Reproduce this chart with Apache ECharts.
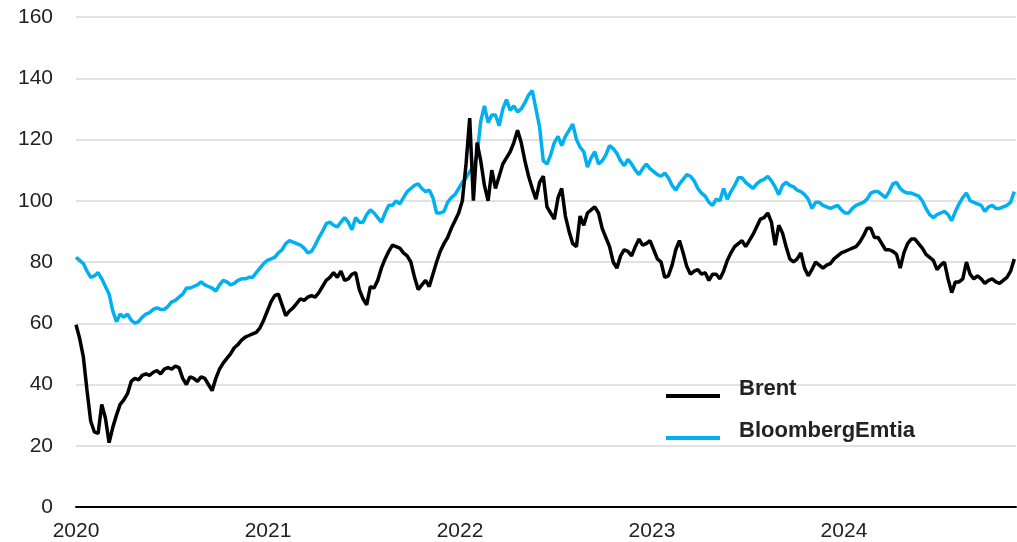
<!DOCTYPE html>
<html>
<head>
<meta charset="utf-8">
<title>Brent vs BloombergEmtia</title>
<script src="https://cdn.jsdelivr.net/npm/echarts@6/dist/echarts.min.js"></script>
<style>
  html, body { margin: 0; padding: 0; background: #fff; }
  #chart { width: 1017px; height: 542px; }
</style>
</head>
<body>
<div id="chart"></div>
<script>
// weekly readings, first point = axis label 2020
const seriesNames = ['Brent', 'BloombergEmtia']
const yearTicks = [2020, 2021, 2022, 2023, 2024]

const brent = [
  59.5, 55, 49, 38, 28, 24.5, 24, 33.5, 29, 21,
  26, 30, 33.5, 35, 37, 41, 42, 41.5, 43, 43.5,
  43, 44, 44.5, 43.5, 45, 45.5, 45, 46, 45.5, 42,
  40, 42.5, 42, 41, 42.5, 42, 40, 38, 42, 45,
  47, 48.5, 50, 52, 53, 54.5, 55.5, 56, 56.5, 57,
  58.5, 61, 64, 67, 69, 69.5, 66, 62.5, 64, 65,
  66.5, 68, 67.5, 68.5, 69, 68.5, 70, 72, 74, 75,
  76.5, 75, 77, 74, 74.5, 76, 76.5, 71, 68, 66,
  72, 71.5, 74, 78, 81, 83.5, 85.5, 85, 84.5, 83,
  82, 80, 75, 71, 72.5, 74, 72, 76, 80, 83.5,
  86, 88, 91, 93.5, 96, 100, 112, 127, 100, 119,
  113, 105, 100, 110, 104, 108, 112, 114, 116, 119,
  123, 119, 113, 108, 104, 100.5, 106, 108, 98, 96,
  94, 101, 104, 95, 90, 86, 85, 95, 92, 96,
  97, 98, 96, 91, 88, 85, 80, 78, 82, 84,
  83.5, 82, 85, 87.5, 85.5, 86, 87, 84, 81, 80,
  75, 75.5, 79, 84, 87, 83, 78.5, 76, 77, 77.5,
  76, 76.5, 74, 76, 76, 74.5, 77, 80.5, 83, 85,
  86, 87, 85, 87, 89, 91.5, 94, 94.5, 96, 93,
  85.5, 92, 89.5, 85, 81, 80, 81, 83, 78, 75.5,
  77.5, 80, 79, 78, 79, 79.5, 81, 82, 83, 83.5,
  84, 84.5, 85, 86.5, 88.5, 91, 91, 88, 88, 86,
  84, 84, 83.5, 82.5, 78, 83, 86, 87.5, 87.5, 86,
  84.5, 82.5, 81.5, 80.5, 77.5, 79, 80, 74.5, 70, 73.5,
  73.5, 74.5, 80, 76, 74.5, 75.5, 74.5, 73, 74, 74.5,
  73.5, 73, 74, 75, 77, 81
]

const emtia = [
  81.5, 80.5, 79.5, 77, 75, 75.5, 76.5, 74.5, 72, 69.5,
  64, 60.5, 63, 62, 63, 61, 60, 60.5, 62, 63,
  63.5, 64.5, 65, 64.5, 64.5, 65.5, 67, 67.5, 68.5, 69.5,
  71.5, 71.5, 72, 72.5, 73.5, 72.5, 72, 71.5, 70.5, 72.5,
  74, 73.5, 72.5, 73, 74, 74.5, 74.5, 75, 75, 76.5,
  78, 79.5, 80.5, 81, 81.5, 83, 84, 86, 87, 86.5,
  86, 85.5, 84.5, 83, 83.5, 85.5, 88, 90, 92.5, 93,
  92, 91.5, 93, 94.5, 93, 90.5, 94.5, 93, 93, 95.5,
  97, 96, 94.5, 93, 96, 98.5, 98.5, 100, 99, 101,
  103, 104, 105, 105.5, 104, 103, 103.5, 101, 96, 96,
  96.5, 99.5, 101, 102, 104, 106, 107.5, 109.5, 111, 115,
  126, 131, 125.5, 128, 128, 124.5, 130, 133, 129.5, 131,
  129, 130, 132, 134.5, 136, 130, 124, 113, 112, 115,
  119, 121, 118, 121, 123, 125, 120, 117.5, 116, 111,
  114, 116, 112, 113, 115, 118, 117, 115.5, 113, 111.5,
  113.5, 112, 110, 108.5, 110.5, 112, 110.5, 109.5, 108.5, 108,
  109, 107.5, 105, 103.5, 105.5, 107, 108.5, 108, 106.5, 104,
  102.5, 101.5, 99.5, 98.5, 100.5, 100, 104, 100.5, 103, 105,
  107.5, 107.5, 106, 105, 104, 105.5, 106.5, 107, 108, 106.5,
  104.5, 102, 105, 106, 105, 104.5, 103.5, 103, 102, 100.5,
  97.5, 99.5, 99.5, 98.5, 98, 97.5, 98, 98.5, 97, 96,
  96, 97.5, 98.5, 99, 99.5, 100.5, 102.5, 103, 103, 102,
  101, 103, 105.5, 106, 104, 103, 102.5, 102.5, 102, 101.5,
  100, 97.5, 95.5, 94.5, 95.5, 96, 96.5, 95.5, 93.5, 96.5,
  99, 101, 102.5, 100, 99.5, 99, 98.5, 96.5, 98, 98.5,
  97.5, 97.5, 98, 98.5, 99.5, 103
]

// x position of each weekly reading, in years
const weekX = brent.map((v, i) => yearTicks[0] + i * 7 / 365.25)
const xMax = yearTicks[0] + 4.896

const font = 'Liberation Sans, Arial, sans-serif'

const chart = echarts.init(document.getElementById('chart'))
const option = {
  animation: false,
  backgroundColor: '#fff',
  grid: {
    left: 76,
    right: 1,
    top: 17,
    bottom: 35,
    containLabel: false,
    outerBoundsMode: 'none'
  },
  legend: {
    data: seriesNames,
    orient: 'vertical',
    left: 666,
    top: 378,
    padding: 0,
    itemWidth: 54,
    itemHeight: 4,
    itemGap: 6,
    icon: 'rect',
    selectedMode: false,
    // text sits a bit above the legend line, like the original
    formatter: name => '{t|' + name + '}',
    textStyle: {
      padding: [0, 0, 0, 14],
      rich: {
        t: {
          fontFamily: font,
          fontSize: 22,
          fontWeight: 'bold',
          color: '#222',
          lineHeight: 24,
          padding: [0, 0, 14, 0]
        }
      }
    }
  },
  xAxis: {
    type: 'value',
    min: yearTicks[0],
    max: xMax,
    interval: 1,
    axisLine: { show: true, onZero: false, lineStyle: { color: '#000', width: 2 } },
    axisTick: { show: false },
    splitLine: { show: false },
    axisLabel: {
      showMaxLabel: false,
      margin: 14,
      fontFamily: font,
      fontSize: 21,
      color: '#222',
      formatter: v => (yearTicks.includes(v) ? String(v) : '')
    }
  },
  yAxis: {
    type: 'value',
    min: 0,
    max: 160,
    interval: 20,
    axisLine: { show: false },
    axisTick: { show: false },
    splitLine: { lineStyle: { color: '#d9d9d9', width: 1.5 } },
    axisLabel: {
      margin: 23,
      fontFamily: font,
      fontSize: 21,
      color: '#222'
    }
  },
  series: [
    {
      name: 'BloombergEmtia',
      type: 'line',
      showSymbol: false,
      color: '#00b0f0',
      lineStyle: { width: 3.5, color: '#00b0f0' },
      data: weekX.map((x, i) => [x, emtia[i]])
    },
    {
      name: 'Brent',
      type: 'line',
      showSymbol: false,
      color: '#000',
      lineStyle: { width: 3.5, color: '#000' },
      data: weekX.map((x, i) => [x, brent[i]])
    }
  ]
}
chart.setOption(option)
</script>
</body>
</html>
